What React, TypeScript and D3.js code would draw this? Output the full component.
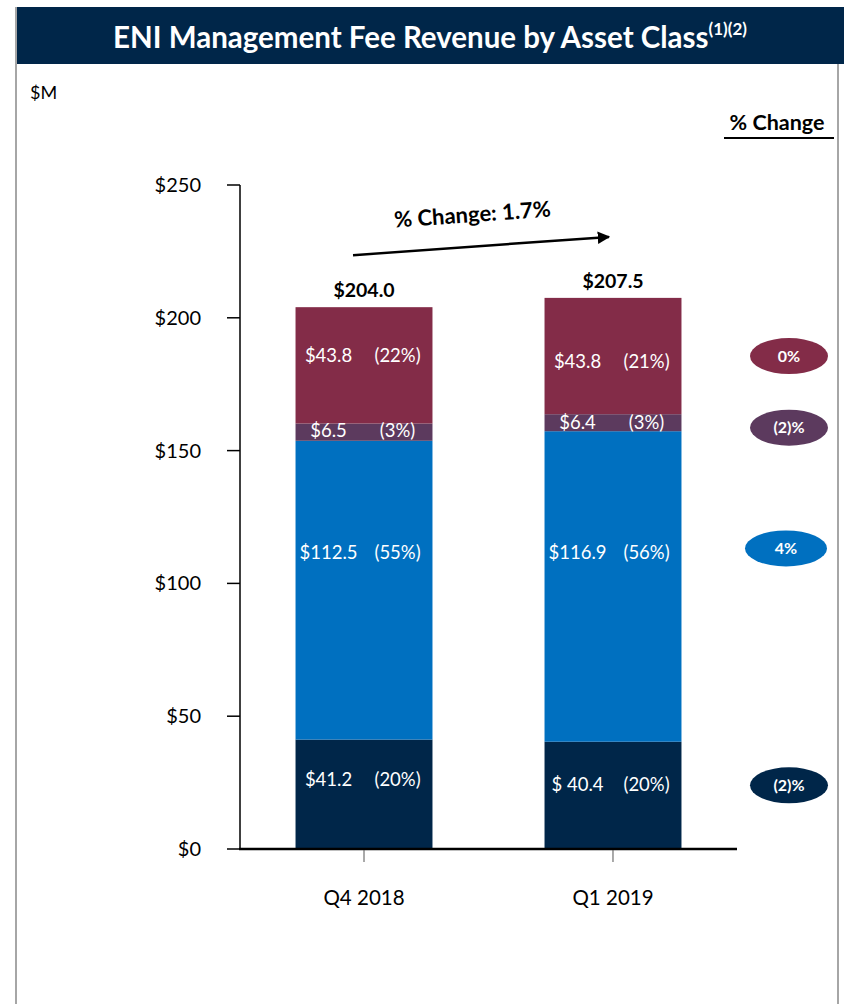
import React from "react";
import * as d3 from "d3";

const categories = ["Q4 2018", "Q1 2019"];
const fixedIncome = [41.2, 40.4];
const equity = [112.5, 116.9];
const alternatives = [6.5, 6.4];
const other = [43.8, 43.8];
const fixedIncomePct = ["(20%)", "(20%)"];
const equityPct = ["(55%)", "(56%)"];
const alternativesPct = ["(3%)", "(3%)"];
const otherPct = ["(22%)", "(21%)"];
const totals = ["$204.0", "$207.5"];
const totalValues = [204.0, 207.5];
const changeLabels = ["(2)%", "4%", "(2)%", "0%"];
const yTicks = [0, 50, 100, 150, 200, 250];
const overallChange = "% Change: 1.7%";

const W = 844;
const H = 1004;
const FONT = "Lato, 'Open Sans', sans-serif";

const layers = [
  { key: "fi", values: fixedIncome, pct: fixedIncomePct, color: "#002649", dy: [-14, -10], edy: 0, valFmt: (v: number, i: number) => (i === 1 ? "$ " + v.toFixed(1) : "$" + v.toFixed(1)) },
  { key: "eq", values: equity, pct: equityPct, color: "#0070C0", dy: [-37, -33], edy: -5, valFmt: (v: number) => "$" + v.toFixed(1) },
  { key: "alt", values: alternatives, pct: alternativesPct, color: "#5C3A5E", dy: [-1, 0], edy: 5, valFmt: (v: number) => "$" + v.toFixed(1) },
  { key: "oth", values: other, pct: otherPct, color: "#832C48", dy: [-9, 6], edy: -6, valFmt: (v: number) => "$" + v.toFixed(1) },
];

export default function App() {
  const x = d3.scaleBand<string>().domain(categories).range([240, 737]).paddingInner(0.45).paddingOuter(0.223);
  const y = d3.scaleLinear().domain([0, 250]).range([849, 185]);
  const bw = x.bandwidth();

  const segs: any[] = [];
  categories.forEach((c, i) => {
    let base = 0;
    layers.forEach((l, li) => {
      const v = l.values[i];
      segs.push({ c, i, li, y0: base, y1: base + v, v, layer: l });
      base += v;
    });
  });

  const labelY = (s: any) => (y(s.y0) + y(s.y1)) / 2 + s.layer.dy[s.i] + 6;

  const q1 = categories[1];
  const ellipseCx = 789;

  const arrowX0 = (x(categories[0]) as number) + bw / 2 - 11;
  const arrowX1 = (x(categories[1]) as number) + bw / 2 - 4;
  const arrowY0 = y(totalValues[0]) - 52;
  const arrowY1 = y(totalValues[1]) - 61;
  const ang = (Math.atan2(arrowY1 - arrowY0, arrowX1 - arrowX0) * 180) / Math.PI;

  return (
    <svg width={W} height={H} style={{ display: "block", position: "absolute", left: 0, top: 0 }} fontFamily={FONT}>
      <defs>
        <marker id="ah" viewBox="0 0 10 10" refX="9" refY="5" markerWidth="5" markerHeight="5" orient="auto">
          <path d="M0,0 L10,5 L0,10 z" fill="#000" />
        </marker>
      </defs>
      <rect x={0} y={0} width={W} height={H} fill="#fff" />
      <line x1={16} x2={16} y1={7} y2={H} stroke="#a6a6a6" strokeWidth={2} />
      <line x1={838} x2={838} y1={64} y2={H} stroke="#a6a6a6" strokeWidth={2} />
      <rect x={17} y={7} width={W - 17} height={57} fill="#002649" />
      <text x={430} y={48} textAnchor="middle" fill="#fff" fontSize={29.5} fontWeight={700}>
        ENI Management Fee Revenue by Asset Class
        <tspan fontSize={17} dy={-13}>(1)(2)</tspan>
      </text>
      <text x={30} y={99} fontSize={18} fill="#000">$M</text>
      <text x={777} y={130} textAnchor="middle" fontSize={21.5} fontWeight={700} fill="#000">% Change</text>
      <line x1={724} x2={834} y1={138} y2={138} stroke="#000" strokeWidth={2} />

      {segs.map((s, k) => (
        <rect key={k} x={x(s.c)} y={y(s.y1)} width={bw} height={y(s.y0) - y(s.y1)} fill={s.layer.color} />
      ))}
      {segs.map((s, k) => (
        <g key={"l" + k} fill="#fff" fontSize={18.5}>
          <text x={(x(s.c) as number) + 33} y={labelY(s)} textAnchor="middle">{s.layer.valFmt(s.v, s.i)}</text>
          <text x={(x(s.c) as number) + 102} y={labelY(s)} textAnchor="middle">{s.layer.pct[s.i]}</text>
        </g>
      ))}

      <line x1={240} x2={240} y1={y(250)} y2={y(0)} stroke="#000" strokeWidth={1.5} />
      {yTicks.map((t) => (
        <g key={t}>
          <line x1={227} x2={240} y1={y(t)} y2={y(t)} stroke="#000" strokeWidth={1.5} />
          <text x={201} y={y(t) + 7} textAnchor="end" fontSize={20} fill="#000">${t}</text>
        </g>
      ))}
      <line x1={239} x2={737} y1={y(0)} y2={y(0)} stroke="#000" strokeWidth={2.5} />
      {categories.map((c) => (
        <g key={c}>
          <line x1={(x(c) as number) + bw / 2} x2={(x(c) as number) + bw / 2} y1={y(0) + 1} y2={y(0) + 13} stroke="#555" strokeWidth={1} />
          <text x={(x(c) as number) + bw / 2} y={905} textAnchor="middle" fontSize={20.5} fill="#000">{c}</text>
        </g>
      ))}

      {categories.map((c, i) => (
        <text key={c} x={(x(c) as number) + bw / 2} y={y(totalValues[i]) - 10} textAnchor="middle" fontSize={19.5} fontWeight={700} fill="#000">{totals[i]}</text>
      ))}

      <line x1={arrowX0} y1={arrowY0} x2={arrowX1} y2={arrowY1} stroke="#000" strokeWidth={2.5} markerEnd="url(#ah)" />
      <text
        transform={`translate(${(arrowX0 + arrowX1) / 2 - 8},${(arrowY0 + arrowY1) / 2 - 24}) rotate(${ang})`}
        textAnchor="middle"
        fontSize={22}
        fontWeight={700}
        fill="#000"
      >
        {overallChange}
      </text>

      {segs
        .filter((s) => s.c === q1)
        .map((s) => {
          const cx = ellipseCx - (s.li === 1 ? 3 : 0);
          const cy = labelY(s) - 6 + s.layer.edy;
          return (
            <g key={"e" + s.li}>
              <ellipse cx={cx} cy={cy} rx={s.li === 1 ? 41 : 39} ry={18} fill={s.layer.color} />
              <text x={cx} y={cy + 5.5} textAnchor="middle" fontSize={16} fontWeight={700} fill="#fff">{changeLabels[s.li]}</text>
            </g>
          );
        })}
    </svg>
  );
}
